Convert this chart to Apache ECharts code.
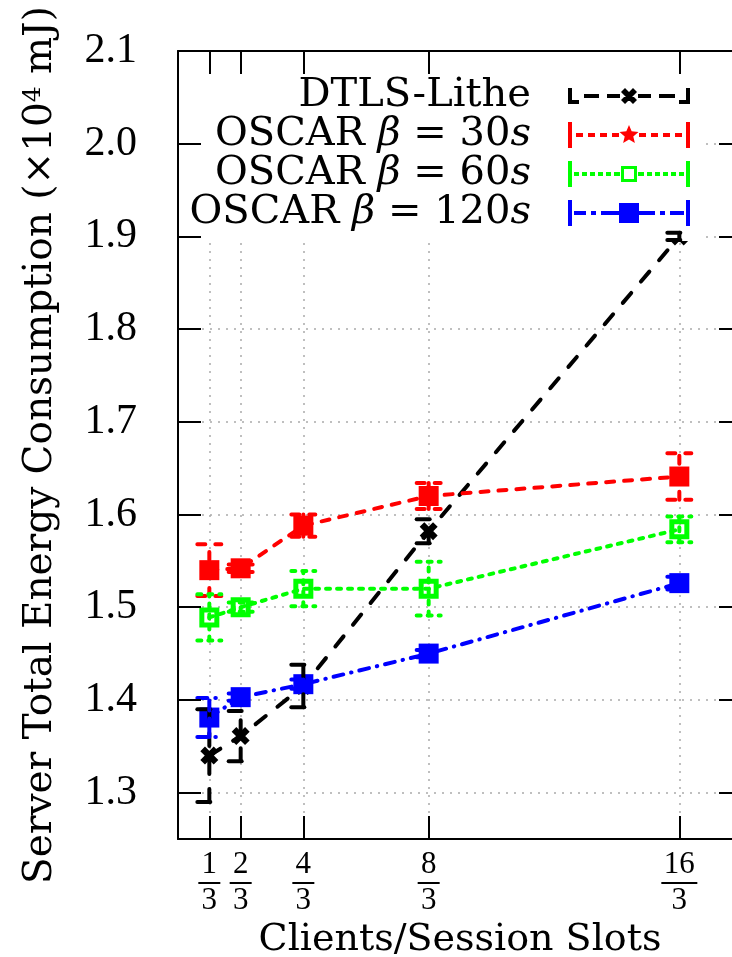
<!DOCTYPE html>
<html>
<head>
<meta charset="utf-8">
<script src="https://cdn.jsdelivr.net/npm/echarts@6/dist/echarts.min.js"></script>
<style>
html, body { margin: 0; padding: 0; background: #fff; }
#container { width: 732px; height: 957px; }
</style>
</head>
<body>
<div id="container"></div>
<script>
var xValues = [1 / 3, 2 / 3, 4 / 3, 8 / 3, 16 / 3];
var xTickLabels = ['1/3', '2/3', '4/3', '8/3', '16/3'];
var yTickValues = [1.3, 1.4, 1.5, 1.6, 1.7, 1.8, 1.9, 2.0, 2.1];

var seriesNames = ['DTLS-Lithe', 'OSCAR β = 30s', 'OSCAR β = 60s', 'OSCAR β = 120s'];

var dtlsMean = [1.340, 1.361, 1.415, 1.582, 1.900];
var dtlsErr = [0.050, 0.027, 0.023, 0.013, 0.004];
var oscar30Mean = [1.540, 1.542, 1.588, 1.620, 1.641];
var oscar30Err = [0.028, 0.004, 0.012, 0.014, 0.025];
var oscar60Mean = [1.489, 1.500, 1.520, 1.520, 1.584];
var oscar60Err = [0.025, 0.005, 0.019, 0.029, 0.014];
var oscar120Mean = [1.381, 1.403, 1.417, 1.450, 1.526];
var oscar120Err = [0.021, 0.004, 0.005, 0.004, 0.007];

var WORD_FONT = 'DejaVu Serif';
var NUM_FONT = 'Liberation Serif';

var dom = document.getElementById('container');
var myChart = echarts.init(dom);

// little path helpers for the legend samples and markers
function rect(x, y, w, h) {
    return 'M' + x + ' ' + y + 'h' + w + 'v' + h + 'h' + (-w) + 'Z';
}
function rectCCW(x, y, w, h) {
    return 'M' + x + ' ' + y + 'v' + h + 'h' + w + 'v' + (-h) + 'Z';
}
function dashes(list, y, t) {
    return list.map(function (d) { return rect(d[0], y, d[1] - d[0], t); }).join('');
}
function star(cx, cy, R, r) {
    var s = '';
    for (var k = 0; k < 10; k++) {
        var a = (-90 + k * 36) * Math.PI / 180;
        var rad = k % 2 ? r : R;
        s += (k ? 'L' : 'M') + (cx + rad * Math.cos(a)).toFixed(2) + ' ' + (cy + rad * Math.sin(a)).toFixed(2);
    }
    return s + 'Z';
}
function cross(cx, cy, s, t) {
    var a = 'M' + (cx - s - t / 2) + ' ' + (cy - s + t / 2) + 'L' + (cx - s + t / 2) + ' ' + (cy - s - t / 2) +
        'L' + (cx + s + t / 2) + ' ' + (cy + s - t / 2) + 'L' + (cx + s - t / 2) + ' ' + (cy + s + t / 2) + 'Z';
    var b = 'M' + (cx - s - t / 2) + ' ' + (cy + s - t / 2) + 'L' + (cx + s - t / 2) + ' ' + (cy - s - t / 2) +
        'L' + (cx + s + t / 2) + ' ' + (cy - s + t / 2) + 'L' + (cx - s + t / 2) + ' ' + (cy + s + t / 2) + 'Z';
    return a + b;
}

var W = 122, C = 61;
var iconBlack = 'path://' + rect(0, 0, 4, 16) + rect(0, 12, 11, 4) + rect(W - 4, 0, 4, 16) + rect(W - 11, 12, 11, 4) +
    dashes([[16, 31], [39, 52], [70, 83], [91, 107]], 6, 4) + cross(C, 8, 6, 4);
var iconRed = 'path://' + rect(0, 0, 4, 26) + rect(W - 4, 0, 4, 26) +
    dashes([[8, 15], [20, 27], [32, 39], [44, 51], [71, 78], [83, 90], [95, 102], [107, 114]], 11, 4) + star(C, 13, 10, 4.5);
var iconGreen = 'path://' + rect(0, 0, 4, 26) + rect(W - 4, 0, 4, 26) +
    dashes([[6, 11], [14, 19], [22, 27], [30, 35], [38, 43], [46, 52], [70, 76], [79, 84], [87, 92], [95, 100], [103, 108], [111, 116]], 11, 4) +
    rect(C - 8, 5, 16, 16) + rectCCW(C - 5, 8, 10, 10);
var iconBlue = 'path://' + rect(0, 0, 4, 26) + rect(W - 4, 0, 4, 26) +
    dashes([[6, 18], [23, 28], [33, 52], [70, 87], [92, 97], [102, 116]], 11, 4) + rect(C - 10, 3, 20, 20);

var markX = 'path://' + cross(9, 9, 6.5, 4.5);
var markHollow = 'path://' + rect(0, 0, 20, 20) + rectCCW(5, 5, 10, 10);

function pairs(means) {
    return xValues.map(function (x, i) { return [x, means[i]]; });
}
function bars(means, errs) {
    return xValues.map(function (x, i) { return [x, means[i] - errs[i], means[i] + errs[i]]; });
}
function errorBar(color, dash) {
    return function (params, api) {
        var x = api.value(0);
        var lo = api.coord([x, api.value(1)]);
        var hi = api.coord([x, api.value(2)]);
        var w = 12;
        var st = { stroke: color, lineWidth: 4, lineDash: dash, lineCap: 'round', fill: null };
        return {
            type: 'group',
            children: [
                { type: 'line', shape: { x1: lo[0], y1: lo[1], x2: hi[0], y2: hi[1] }, style: st },
                { type: 'line', shape: { x1: lo[0] - w, y1: lo[1], x2: lo[0] + w, y2: lo[1] }, style: st },
                { type: 'line', shape: { x1: hi[0] - w, y1: hi[1], x2: hi[0] + w, y2: hi[1] }, style: st }
            ]
        };
    };
}

var styles = [
    { color: '#000000', dash: [13, 15], symbol: markX, size: 18, icon: iconBlack },
    { color: '#ff0000', dash: [8, 10], symbol: 'rect', size: 20, icon: iconRed },
    { color: '#00ff00', dash: [4, 7], symbol: markHollow, size: 20, icon: iconGreen },
    { color: '#0000ff', dash: [10, 8, 0.5, 8], symbol: 'rect', size: 20, icon: iconBlue }
];
var means = [dtlsMean, oscar30Mean, oscar60Mean, oscar120Mean];
var errs = [dtlsErr, oscar30Err, oscar60Err, oscar120Err];

var series = [];
seriesNames.forEach(function (name, i) {
    var s = styles[i];
    series.push({
        name: name,
        type: 'line',
        data: pairs(means[i]),
        symbol: s.symbol,
        symbolSize: s.size,
        showAllSymbol: true,
        lineStyle: { color: s.color, width: 4, type: s.dash, cap: 'round' },
        itemStyle: { color: s.color, borderWidth: 0 },
        z: 3
    });
});
seriesNames.forEach(function (name, i) {
    var s = styles[i];
    series.push({
        type: 'custom',
        data: bars(means[i], errs[i]),
        encode: { x: 0, y: [1, 2] },
        renderItem: errorBar(s.color, s.dash),
        silent: true,
        z: 4
    });
});

function fracLabel(value) {
    var idx = 0;
    for (var i = 0; i < xValues.length; i++) {
        if (Math.abs(xValues[i] - value) < 1e-6) idx = i;
    }
    var p = xTickLabels[idx].split('/');
    return '{n|' + p[0] + '}\n{' + (p[0].length > 1 ? 'bar2' : 'bar1') + '|}\n{d|' + p[1] + '}';
}

function legendText(name) {
    if (name.indexOf('β') < 0) return name;
    var num = name.replace(/^.*= (\d+)s$/, '$1');
    return 'OSCAR {i|β} = ' + num + '{i|s}';
}

var axisBlack = { color: '#000', width: 2 };
var gridDots = { color: '#aaaaaa', width: 1.5, type: [2, 6] };

option = {
    animation: false,
    backgroundColor: '#ffffff',
    grid: { left: 178, top: 51, bottom: 118, width: 564, containLabel: false, outerBoundsMode: 'none' },
    legend: {
        orient: 'vertical',
        right: 27,
        top: 74,
        padding: [2, 15, 8, 10],
        backgroundColor: '#ffffff',
        itemWidth: W,
        itemHeight: 30,
        itemGap: -1,
        align: 'right',
        symbolKeepAspect: true,
        selectedMode: false,
        itemStyle: { borderWidth: 0 },
        data: seriesNames.map(function (n, i) { return { name: n, icon: styles[i].icon }; }),
        formatter: legendText,
        textStyle: {
            fontFamily: WORD_FONT,
            fontSize: 40,
            color: '#000',
            width: 345,
            align: 'right',
            padding: [0, 32, 0, 0],
            lineHeight: 30,
            rich: {
                i: { fontFamily: WORD_FONT, fontSize: 40, fontStyle: 'italic', color: '#000', lineHeight: 30 }
            }
        }
    },
    xAxis: [{
        type: 'value',
        min: 0,
        max: 6,
        position: 'bottom',
        z: 5,
        name: 'Clients/Session Slots',
        nameLocation: 'middle',
        nameGap: 82,
        nameTextStyle: { fontFamily: WORD_FONT, fontSize: 38, color: '#000' },
        axisLine: { show: true, onZero: false, lineStyle: axisBlack },
        axisTick: { show: true, inside: true, length: 23, customValues: xValues, lineStyle: axisBlack },
        axisLabel: {
            customValues: xValues,
            margin: 11,
            formatter: fracLabel,
            color: '#000',
            rich: {
                n: { fontFamily: NUM_FONT, fontSize: 31, lineHeight: 30, align: 'center', color: '#000' },
                d: { fontFamily: NUM_FONT, fontSize: 31, lineHeight: 30, align: 'center', color: '#000' },
                bar1: { width: 22, height: 2, lineHeight: 6, backgroundColor: '#000' },
                bar2: { width: 36, height: 2, lineHeight: 6, backgroundColor: '#000' }
            }
        },
        splitLine: { show: false }
    }, {
        type: 'value',
        min: 0,
        max: 6,
        position: 'top',
        z: 0,
        axisLine: { show: true, onZero: false, lineStyle: axisBlack },
        axisTick: { show: true, inside: true, length: 23, customValues: xValues, lineStyle: axisBlack },
        axisLabel: { show: false },
        splitLine: { show: true, lineStyle: gridDots }
    }],
    yAxis: [{
        type: 'value',
        min: 1.25,
        max: 2.1,
        position: 'left',
        z: 5,
        name: 'Server Total Energy Consumption ({t|×}10{sup|4} mJ)',
        nameLocation: 'middle',
        nameGap: 118,
        nameTextStyle: {
            fontFamily: WORD_FONT, fontSize: 39, color: '#000',
            rich: {
                t: { fontFamily: WORD_FONT, fontSize: 39, color: '#000' },
                sup: { fontFamily: WORD_FONT, fontSize: 25, color: '#000', verticalAlign: 'top' }
            }
        },
        axisLine: { show: true, onZero: false, lineStyle: axisBlack },
        axisTick: { show: true, inside: true, length: 23, customValues: yTickValues, lineStyle: axisBlack },
        axisLabel: {
            customValues: yTickValues,
            margin: 41,
            fontFamily: NUM_FONT,
            fontSize: 42,
            color: '#000',
            formatter: function (v) { return v.toFixed(1); }
        },
        splitLine: { show: false }
    }, {
        type: 'value',
        min: 1.25,
        max: 2.1,
        position: 'right',
        z: 0,
        axisLine: { show: true, onZero: false, lineStyle: axisBlack },
        axisTick: { show: true, inside: true, length: 23, customValues: yTickValues, lineStyle: axisBlack },
        axisLabel: { show: false },
        splitLine: { show: true, lineStyle: gridDots }
    }],
    series: series
};

myChart.setOption(option);
</script>
</body>
</html>
